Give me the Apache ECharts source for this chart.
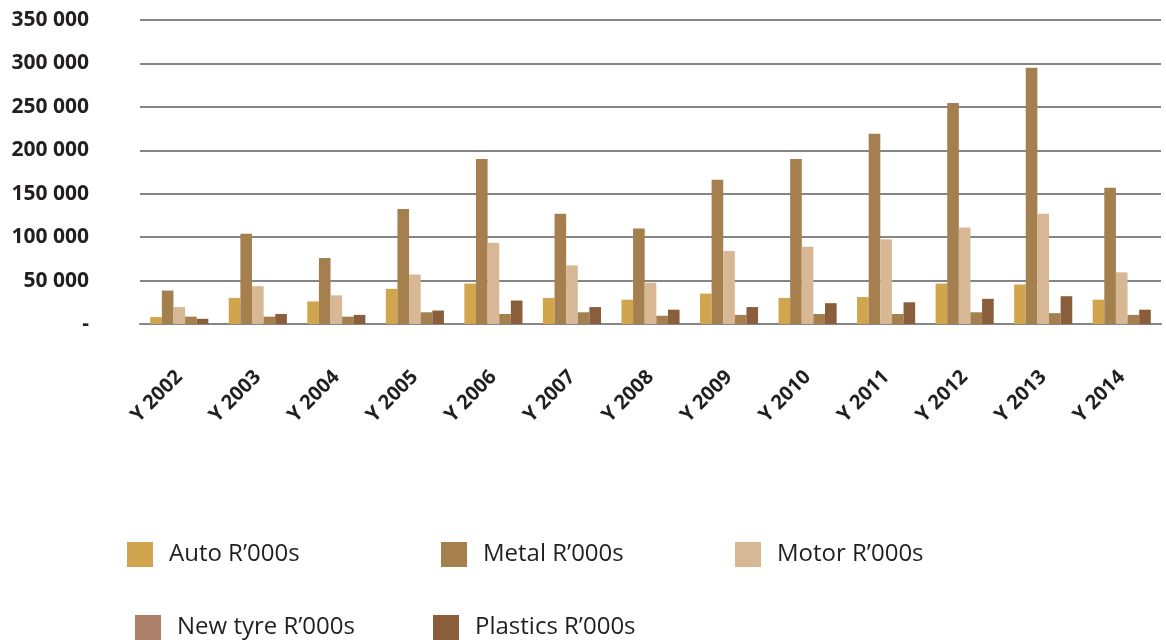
<!DOCTYPE html>
<html>
<head>
<meta charset="utf-8">
<script src="https://cdn.jsdelivr.net/npm/echarts@6/dist/echarts.min.js"></script>
<style>
  html, body { margin: 0; padding: 0; background: #fff; }
  #chart { width: 1166px; height: 644px; }
</style>
</head>
<body>
<div id="chart"></div>
<script>
// values, R'000s
const years = ['Y 2002', 'Y 2003', 'Y 2004', 'Y 2005', 'Y 2006', 'Y 2007', 'Y 2008',
  'Y 2009', 'Y 2010', 'Y 2011', 'Y 2012', 'Y 2013', 'Y 2014']
const auto = [8000, 30000, 26000, 40500, 46500, 30000, 28000, 35000, 30000, 31000, 46500, 45500, 28000]
const metal = [38500, 104000, 76000, 132500, 190000, 127000, 110000, 166000, 190000, 219000, 254500, 295000, 157000]
const motor = [19500, 43500, 33000, 57000, 93500, 67500, 47500, 84000, 89000, 97500, 111000, 127000, 59500]
const newTyre = [8500, 8500, 8500, 13500, 11500, 13500, 9500, 10500, 11500, 11500, 13500, 12500, 10500]
const plastics = [6000, 11500, 10500, 15500, 27000, 19500, 16500, 19500, 24000, 25000, 29000, 32000, 16500]

const names = ['Auto R’000s', 'Metal R’000s', 'Motor R’000s', 'New tyre R’000s', 'Plastics R’000s']
const barColors = ['#d1a54e', '#a5804e', '#d8b795', '#a5804e', '#8a5e3b']
const legendColors = ['#d1a54e', '#a5804e', '#d8b795', '#ad806a', '#8a5e3b']
const legendPos = [[127, 542], [441, 542], [735, 542], [135, 615], [433, 615]]

const font = '"Open Sans", "Noto Sans", sans-serif'
const chart = echarts.init(document.getElementById('chart'))

const fmt = v => {
  if (v === 0) return '-'
  return String(v).replace(/\B(?=(\d{3})+(?!\d))/g, ' ')
}

const legends = names.map((n, i) => ({
  left: legendPos[i][0],
  top: legendPos[i][1],
  padding: 0,
  itemWidth: 26,
  itemHeight: 25,
  icon: 'rect',
  selectedMode: false,
  data: [{ name: n, itemStyle: { color: legendColors[i] } }],
  textStyle: { fontFamily: font, fontSize: 24, color: '#231f20', padding: [0, 0, 0, 11] },
}))

const seriesData = [auto, metal, motor, newTyre, plastics]

const option = {
  animation: false,
  legend: legends,
  grid: { left: 140, right: 5, top: 20, bottom: 320 },
  xAxis: {
    type: 'category',
    data: years,
    axisTick: { show: false },
    axisLine: { lineStyle: { color: '#858585', width: 2 } },
    axisLabel: {
      rotate: 45,
      margin: 50,
      interval: 0,
      fontFamily: font,
      fontSize: 20,
      fontWeight: 'bold',
      color: '#231f20',
    },
  },
  yAxis: {
    type: 'value',
    min: 0,
    max: 350000,
    interval: 50000,
    axisLine: { show: false },
    axisTick: { show: false },
    splitLine: { lineStyle: { color: '#858585', width: 2 } },
    axisLabel: {
      margin: 51,
      fontFamily: font,
      fontSize: 21,
      fontWeight: 'bold',
      color: '#231f20',
      formatter: fmt,
    },
  },
  series: seriesData.map((d, i) => ({
    name: names[i],
    type: 'bar',
    data: d,
    barGap: '0%',
    barCategoryGap: '26%',
    itemStyle: { color: barColors[i] },
  })),
}

chart.setOption(option)
</script>
</body>
</html>
